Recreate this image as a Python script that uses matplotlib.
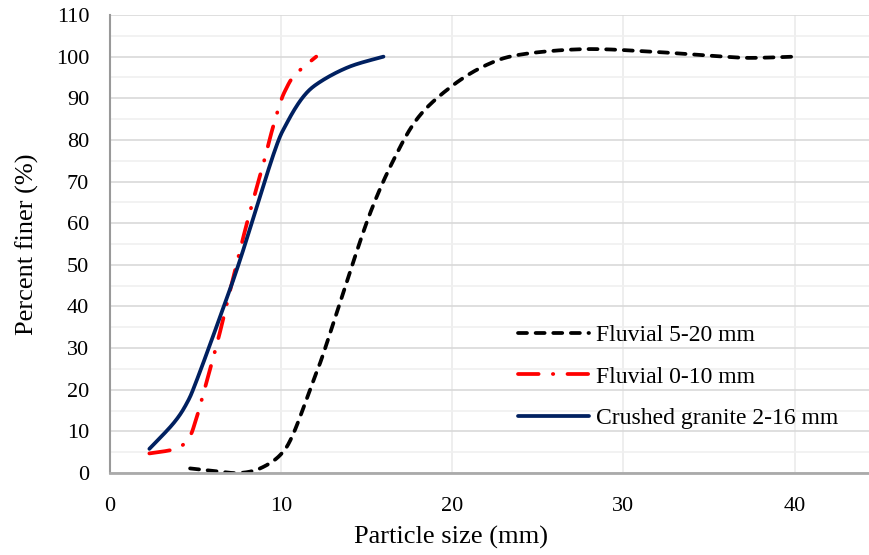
import matplotlib
matplotlib.use("Agg")
import matplotlib.pyplot as plt
import numpy as np
from matplotlib.ticker import MultipleLocator

# points (particle size mm, percent finer)
fluvial_5_20_x = [4.68, 6.43, 7.6, 8.77, 9.94, 10.72, 11.89, 12.47, 13.84, 15.2, 16.57, 18.03,
                  20.0, 22.0, 24.0, 27.7, 31.6, 35.5, 37.4, 40.0]
fluvial_5_20_y = [1.1, 0.3, 0.0, 1.1, 4.3, 9.5, 22.3, 28.7, 46.0, 62.4, 75.2, 85.5,
                  93.0, 98.0, 100.5, 101.8, 101.2, 100.1, 99.7, 100.0]

fluvial_0_10_x = [2.30, 3.9, 4.62, 5.0, 5.46, 6.33, 7.02, 8.0, 8.97, 9.45, 9.94, 10.27, 10.8, 12.05]
fluvial_0_10_y = [4.7, 5.9, 8.5, 12.5, 19.1, 32.3, 43.9, 60.0, 74.4, 82.0, 88.8, 92.1, 95.6, 100.0]

granite_x = [2.30, 3.70, 4.48, 5.07, 6.43, 7.6, 9.55, 10.33, 11.3, 12.3, 14.0, 15.98]
granite_y = [5.8, 11.9, 16.7, 22.3, 37.5, 51.2, 76.5, 84.0, 90.4, 94.0, 97.6, 100.0]

labels = ["Fluvial 5-20 mm", "Fluvial 0-10 mm", "Crushed granite 2-16 mm"]


def smooth(xs, ys, n=30):
    # excel style smoothed line: cubic bezier between points
    p = np.column_stack([xs, ys]).astype(float)
    ext = np.vstack([p[0], p, p[-1]])
    out = []
    t = np.linspace(0, 1, n)[:, None]
    for i in range(len(p) - 1):
        p0, p1 = ext[i + 1], ext[i + 2]
        c1 = p0 + (ext[i + 2] - ext[i]) / 6
        c2 = p1 - (ext[i + 3] - ext[i + 1]) / 6
        seg = (1 - t) ** 3 * p0 + 3 * (1 - t) ** 2 * t * c1 + 3 * (1 - t) * t ** 2 * c2 + t ** 3 * p1
        out.append(seg if i == 0 else seg[1:])
    out = np.vstack(out)
    return out[:, 0], out[:, 1]


plt.rcParams['font.family'] = ['Liberation Serif', 'DejaVu Serif']

fig = plt.figure(figsize=(8.69, 5.55), dpi=100)
ax = fig.add_axes([110 / 869, 82 / 555, 759 / 869, 458 / 555])

lw = 2.7
sx, sy = smooth(fluvial_5_20_x, fluvial_5_20_y)
ax.plot(sx, sy, color='black', lw=lw, dashes=(2.4, 2.3), dash_capstyle='round', label=labels[0])
sx, sy = smooth(fluvial_0_10_x, fluvial_0_10_y)
ax.plot(sx, sy, color='#ff0000', lw=lw, dashes=(5.5, 3.8, 0.1, 3.8), dash_capstyle='round', label=labels[1])
sx, sy = smooth(granite_x, granite_y)
ax.plot(sx, sy, color='#002060', lw=lw, solid_capstyle='round', label=labels[2])

ax.set_xlim(0, 44.35)
ax.set_ylim(0, 110)
ax.xaxis.set_major_locator(MultipleLocator(10))
ax.yaxis.set_major_locator(MultipleLocator(10))
ax.yaxis.set_minor_locator(MultipleLocator(5))

ax.grid(True, which='major', axis='y', color='#d9d9d9', lw=1.2)
ax.grid(True, which='minor', axis='y', color='#f0f0f0', lw=1.2)
ax.grid(True, which='major', axis='x', color='#ebebeb', lw=1.2)
ax.set_axisbelow(True)

for s in ['top', 'right']:
    ax.spines[s].set_visible(False)
ax.spines['left'].set_color('#999999')
ax.spines['left'].set_linewidth(1.5)
ax.spines['bottom'].set_color('#aaaaaa')
ax.spines['bottom'].set_linewidth(2)

ax.tick_params(axis='both', which='both', length=0, labelsize=16)
ax.tick_params(axis='x', pad=17)
ax.tick_params(axis='y', pad=15)

ax.set_xlabel("Particle size (mm)", fontsize=19, labelpad=10)
ax.xaxis.set_label_coords((451 - 110) / 759, -0.115, transform=ax.transAxes)
ax.set_ylabel("Percent finer (%)", fontsize=19, labelpad=12)

ax.legend(loc='center left', bbox_to_anchor=((518 - 110 - 7) / 759, 0.21), frameon=False,
          fontsize=17, handlelength=3, handletextpad=0.3, labelspacing=0.85, borderaxespad=0,
          borderpad=0.3)

fig.savefig("out.png", dpi=100)
